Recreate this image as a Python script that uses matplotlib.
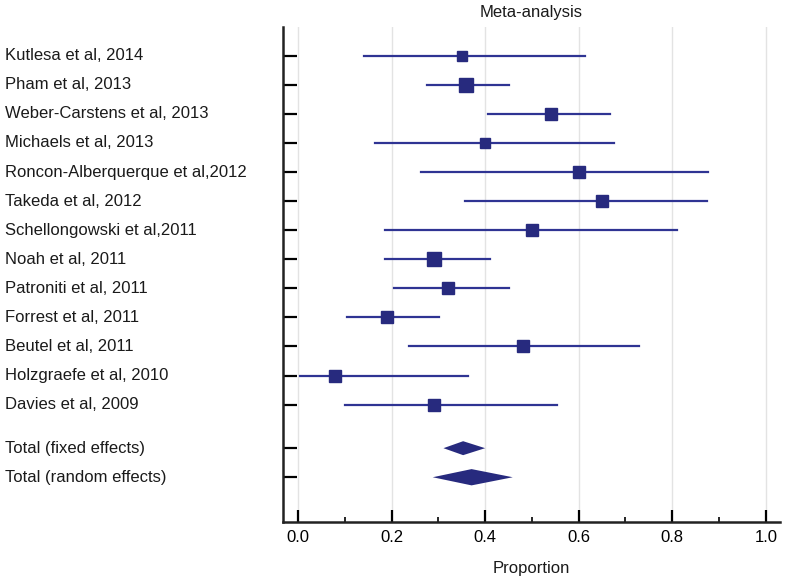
import matplotlib.pyplot as plt
import matplotlib.transforms as mtransforms
from matplotlib.ticker import MultipleLocator

plt.rcParams['font.family'] = ['Liberation Sans', 'DejaVu Sans']

studies = ["Kutlesa et al, 2014", "Pham et al, 2013", "Weber-Carstens et al, 2013",
           "Michaels et al, 2013", "Roncon-Alberquerque et al,2012", "Takeda et al, 2012",
           "Schellongowski et al,2011", "Noah et al, 2011", "Patroniti et al, 2011",
           "Forrest et al, 2011", "Beutel et al, 2011", "Holzgraefe et al, 2010",
           "Davies et al, 2009"]
prop = [0.35, 0.36, 0.54, 0.40, 0.60, 0.65, 0.50, 0.29, 0.32, 0.19, 0.48, 0.08, 0.29]
ci_low = [0.142, 0.275, 0.407, 0.165, 0.262, 0.358, 0.187, 0.187, 0.206, 0.105, 0.238, 0.004, 0.100]
ci_high = [0.613, 0.451, 0.667, 0.675, 0.876, 0.875, 0.811, 0.410, 0.452, 0.302, 0.729, 0.363, 0.553]
# relative weight -> square size
weight = [10, 13, 12, 9, 11, 11, 11, 13, 12, 12, 11, 11, 11]

totals = ["Total (fixed effects)", "Total (random effects)"]
tot_est = [0.353, 0.371]
tot_low = [0.311, 0.288]
tot_high = [0.400, 0.459]

navy = '#272a7e'
line_c = '#2f3493'

fig = plt.figure(figsize=(7.85, 5.8), dpi=100, facecolor='white')
ax = fig.add_axes([0.3605, 0.1, 0.633, 0.8534])

ypos = list(range(len(studies)))
for i in range(len(studies)):
    ax.plot([ci_low[i], ci_high[i]], [ypos[i], ypos[i]], color=line_c, lw=1.6, zorder=3)
    ax.plot(prop[i], ypos[i], marker='s', color=navy, ms=weight[i] * 0.75, zorder=4)

tot_y = [len(studies) + 0.5, len(studies) + 1.5]
tot_h = [0.24, 0.28]
for j in range(2):
    xs = [tot_low[j], tot_est[j], tot_high[j], tot_est[j]]
    ys = [tot_y[j], tot_y[j] - tot_h[j], tot_y[j], tot_y[j] + tot_h[j]]
    ax.fill(xs, ys, color=navy, lw=0, zorder=4)

ax.set_xlim(-0.032, 1.03)
ax.set_ylim(16.04, -0.99)

ax.xaxis.set_minor_locator(MultipleLocator(0.1))
ax.set_xticks([0, 0.2, 0.4, 0.6, 0.8, 1.0])
ax.set_xticklabels(["0.0", "0.2", "0.4", "0.6", "0.8", "1.0"], fontsize=12)
ax.tick_params(axis='x', which='major', direction='in', length=8.5, width=1.6, pad=6)
ax.tick_params(axis='x', which='minor', direction='in', length=3.6, width=1.2)
ax.grid(axis='x', color='#e3e3e3', lw=1, zorder=0)

ax.set_yticks(ypos + tot_y)
ax.set_yticklabels([])
ax.tick_params(axis='y', direction='in', length=10, width=1.6)

for s in ['top', 'right']:
    ax.spines[s].set_visible(False)
for s in ['left', 'bottom']:
    ax.spines[s].set_linewidth(1.8)
    ax.spines[s].set_color('#222222')

trans = mtransforms.blended_transform_factory(fig.transFigure, ax.transData)
for i, name in enumerate(studies + totals):
    ax.text(5 / 785, (ypos + tot_y)[i], name, transform=trans, ha='left', va='center',
            fontsize=12, color='#1a1a1a')

ax.set_title("Meta-analysis", fontsize=12, pad=7, color='#1a1a1a')
ax.set_xlabel("Proportion", fontsize=12, labelpad=11, color='#1a1a1a')

fig.savefig('out.png', dpi=100)
